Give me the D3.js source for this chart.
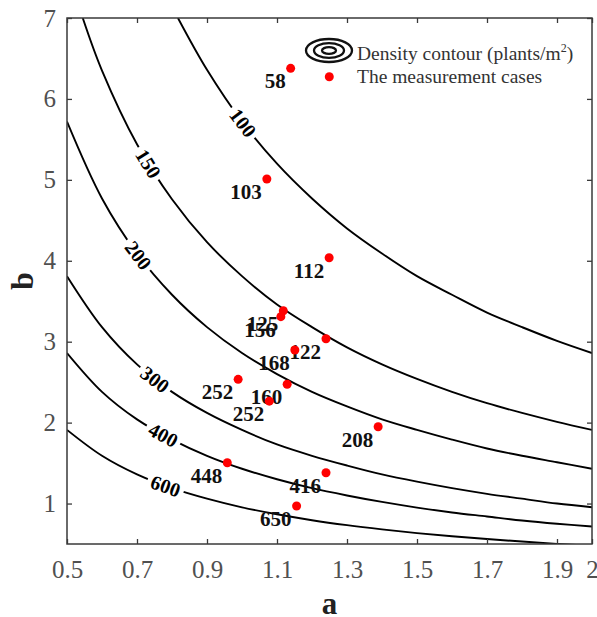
<!DOCTYPE html>
<html>
<head>
<meta charset="utf-8">
<script src="https://cdn.jsdelivr.net/npm/d3@7"></script>
<style>
  html, body { margin: 0; padding: 0; background: #fff; }
  svg { display: block; font-family: "Liberation Serif", "Times New Roman", serif; }
</style>
</head>
<body>
<svg id="chart" width="597" height="617"></svg>
<script>
// ---------- data ----------
const xTicks = [0.5, 0.7, 0.9, 1.1, 1.3, 1.5, 1.7, 1.9, 2];
const yTicks = [1, 2, 3, 4, 5, 6, 7];

const contourLevels = [100, 150, 200, 300, 400, 600];
// contour points [a, b]
const contour100 = [[0.817,7],[0.9,6.36],[1.0,5.72],[1.1,5.2],[1.2,4.77],[1.3,4.4],[1.4,4.09],[1.5,3.81],[1.6,3.58],[1.7,3.36],[1.8,3.18],[1.9,3.01],[2.0,2.86]];
const contour150 = [[0.545,7],[0.6,6.35],[0.7,5.44],[0.8,4.76],[0.9,4.23],[1.0,3.81],[1.1,3.46],[1.2,3.18],[1.3,2.93],[1.4,2.72],[1.5,2.54],[1.6,2.38],[1.7,2.24],[1.8,2.12],[1.9,2.01],[2.0,1.91]];
const contour200 = [[0.5,5.72],[0.6,4.77],[0.7,4.09],[0.8,3.58],[0.9,3.18],[1.0,2.86],[1.1,2.6],[1.2,2.38],[1.3,2.2],[1.4,2.04],[1.5,1.91],[1.6,1.79],[1.7,1.68],[1.8,1.59],[1.9,1.51],[2.0,1.43]];
const contour300 = [[0.5,3.81],[0.6,3.18],[0.7,2.72],[0.8,2.38],[0.9,2.12],[1.0,1.91],[1.1,1.73],[1.2,1.59],[1.3,1.47],[1.4,1.36],[1.5,1.27],[1.6,1.19],[1.7,1.12],[1.8,1.06],[1.9,1.0],[2.0,0.955]];
const contour400 = [[0.5,2.86],[0.6,2.38],[0.7,2.04],[0.8,1.79],[0.9,1.59],[1.0,1.43],[1.1,1.3],[1.2,1.19],[1.3,1.1],[1.4,1.02],[1.5,0.95],[1.6,0.89],[1.7,0.84],[1.8,0.79],[1.9,0.75],[2.0,0.717]];
const contour600 = [[0.5,1.91],[0.6,1.59],[0.7,1.36],[0.8,1.19],[0.9,1.06],[1.0,0.953],[1.1,0.867],[1.2,0.794],[1.3,0.733],[1.4,0.681],[1.5,0.635],[1.6,0.596],[1.7,0.561],[1.8,0.53],[1.9,0.502],[2.0,0.477]];
const contourLabelA = [1.003, 0.732, 0.704, 0.751, 0.775, 0.782];

const caseLabels = ["58", "103", "112", "125", "156", "122", "168", "160", "252", "252", "208", "448", "416", "650"];
const caseA = [1.139, 1.071, 1.249, 1.118, 1.111, 1.240, 1.151, 1.129, 1.078, 0.989, 1.389, 0.958, 1.240, 1.156];
const caseB = [6.378, 5.010, 4.038, 3.383, 3.309, 3.036, 2.897, 2.474, 2.265, 2.535, 1.949, 1.504, 1.381, 0.969];

// ---------- layout ----------
const svg = d3.select("#chart");
const X0 = 67, X1 = 592, Y0 = 18, Y1 = 544;
const x = d3.scaleLinear().domain([0.5, 2]).range([X0, X1]);
const y = d3.scaleLinear().domain([0.5, 7]).range([Y1, Y0]);
const axisColor = "#3a3a3a";
const tickTextColor = "#505050";

svg.append("defs").append("clipPath").attr("id", "plotclip")
  .append("rect").attr("x", X0).attr("y", Y0).attr("width", X1 - X0).attr("height", Y1 - Y0);

// ---------- contours ----------
const contours = [contour100, contour150, contour200, contour300, contour400, contour600];
const line = d3.line().x(d => x(d[0])).y(d => y(d[1])).curve(d3.curveCatmullRom.alpha(0.5));
const gC = svg.append("g").attr("clip-path", "url(#plotclip)");
const paths = contours.map(c =>
  gC.append("path").attr("d", line(c)).attr("fill", "none")
    .attr("stroke", "#000").attr("stroke-width", 1.9).node());

// contour labels
const gL = svg.append("g");
contourLevels.forEach((lev, i) => {
  const p = paths[i];
  const L = p.getTotalLength();
  const tx = x(contourLabelA[i]);
  let best = 0, bd = Infinity;
  for (let s = 0; s <= L; s += 0.5) {
    const pt = p.getPointAtLength(s);
    const d = Math.abs(pt.x - tx);
    if (d < bd) { bd = d; best = s; }
  }
  const c = p.getPointAtLength(best);
  const p1 = p.getPointAtLength(Math.max(0, best - 6));
  const p2 = p.getPointAtLength(Math.min(L, best + 6));
  const ang = Math.atan2(p2.y - p1.y, p2.x - p1.x) * 180 / Math.PI;
  const g = gL.append("g").attr("transform", `translate(${c.x},${c.y}) rotate(${ang})`);
  const bg = g.append("rect").attr("fill", "#fff");
  const t = g.append("text").text(lev)
    .attr("text-anchor", "middle").attr("dy", "0.35em")
    .attr("font-size", 20).attr("font-weight", "bold").attr("fill", "#000");
  const bb = t.node().getBBox();
  bg.attr("x", bb.x - 4).attr("y", -7).attr("width", bb.width + 8).attr("height", 14);
});

// ---------- axes ----------
const gx = svg.append("g").attr("transform", `translate(0,${Y1})`)
  .call(d3.axisBottom(x).tickValues(xTicks).tickFormat(d => d === 2 ? "2" : d3.format(".1f")(d))
    .tickSizeInner(-5).tickSizeOuter(0).tickPadding(16));
const gxt = svg.append("g").attr("transform", `translate(0,${Y0})`)
  .call(d3.axisTop(x).tickValues(xTicks).tickFormat("").tickSizeInner(-5).tickSizeOuter(0));
const gy = svg.append("g").attr("transform", `translate(${X0},0)`)
  .call(d3.axisLeft(y).tickValues(yTicks).tickFormat(d3.format("d"))
    .tickSizeInner(-5).tickSizeOuter(0).tickPadding(11));
const gyr = svg.append("g").attr("transform", `translate(${X1},0)`)
  .call(d3.axisRight(y).tickValues(yTicks).tickFormat("").tickSizeInner(-5).tickSizeOuter(0));
[gx, gxt, gy, gyr].forEach(g => {
  g.select(".domain").remove();
  g.selectAll(".tick line").attr("stroke", axisColor).attr("stroke-width", 1.3);
  g.selectAll(".tick text").attr("fill", tickTextColor)
    .attr("font-family", "Liberation Serif").attr("font-size", 25);
});
svg.append("rect").attr("x", X0).attr("y", Y0).attr("width", X1 - X0).attr("height", Y1 - Y0)
  .attr("fill", "none").attr("stroke", axisColor).attr("stroke-width", 1.5);

// axis titles
svg.append("text").attr("x", (X0 + X1) / 2).attr("y", 614).attr("text-anchor", "middle")
  .attr("font-size", 31).attr("font-weight", "bold").attr("fill", "#222").text("a");
svg.append("text").attr("transform", `translate(33,${(Y0 + Y1) / 2}) rotate(-90)`)
  .attr("text-anchor", "middle").attr("font-size", 32).attr("font-weight", "bold")
  .attr("fill", "#222").text("b");

// ---------- measurement cases ----------
const gP = svg.append("g");
caseLabels.forEach((lab, i) => {
  const cx = x(caseA[i]), cy = y(caseB[i]);
  gP.append("text").attr("x", cx - 5).attr("y", cy + 20).attr("text-anchor", "end")
    .attr("font-size", 21).attr("font-weight", "bold").attr("fill", "#111").text(lab);
});
caseLabels.forEach((lab, i) => {
  gP.append("circle").attr("cx", x(caseA[i])).attr("cy", y(caseB[i])).attr("r", 4.5).attr("fill", "#ff0000");
});

// ---------- legend ----------
const lg = svg.append("g");
[[23, 11.5], [15, 7.3], [7, 3.4]].forEach(([rx, ry]) =>
  lg.append("ellipse").attr("cx", 329).attr("cy", 50.5).attr("rx", rx).attr("ry", ry)
    .attr("fill", "none").attr("stroke", "#111").attr("stroke-width", 2.3));
const t1 = lg.append("text").attr("x", 357).attr("y", 60).attr("font-size", 19.5).attr("fill", "#333");
t1.append("tspan").text("Density contour (plants/m");
t1.append("tspan").attr("dy", -8).attr("font-size", 12).text("2");
t1.append("tspan").attr("dy", 8).text(")");
lg.append("circle").attr("cx", 329.3).attr("cy", 76.7).attr("r", 4.5).attr("fill", "#ff0000");
lg.append("text").attr("x", 357).attr("y", 83).attr("font-size", 19.5).attr("fill", "#333")
  .text("The measurement cases");
</script>
</body>
</html>
